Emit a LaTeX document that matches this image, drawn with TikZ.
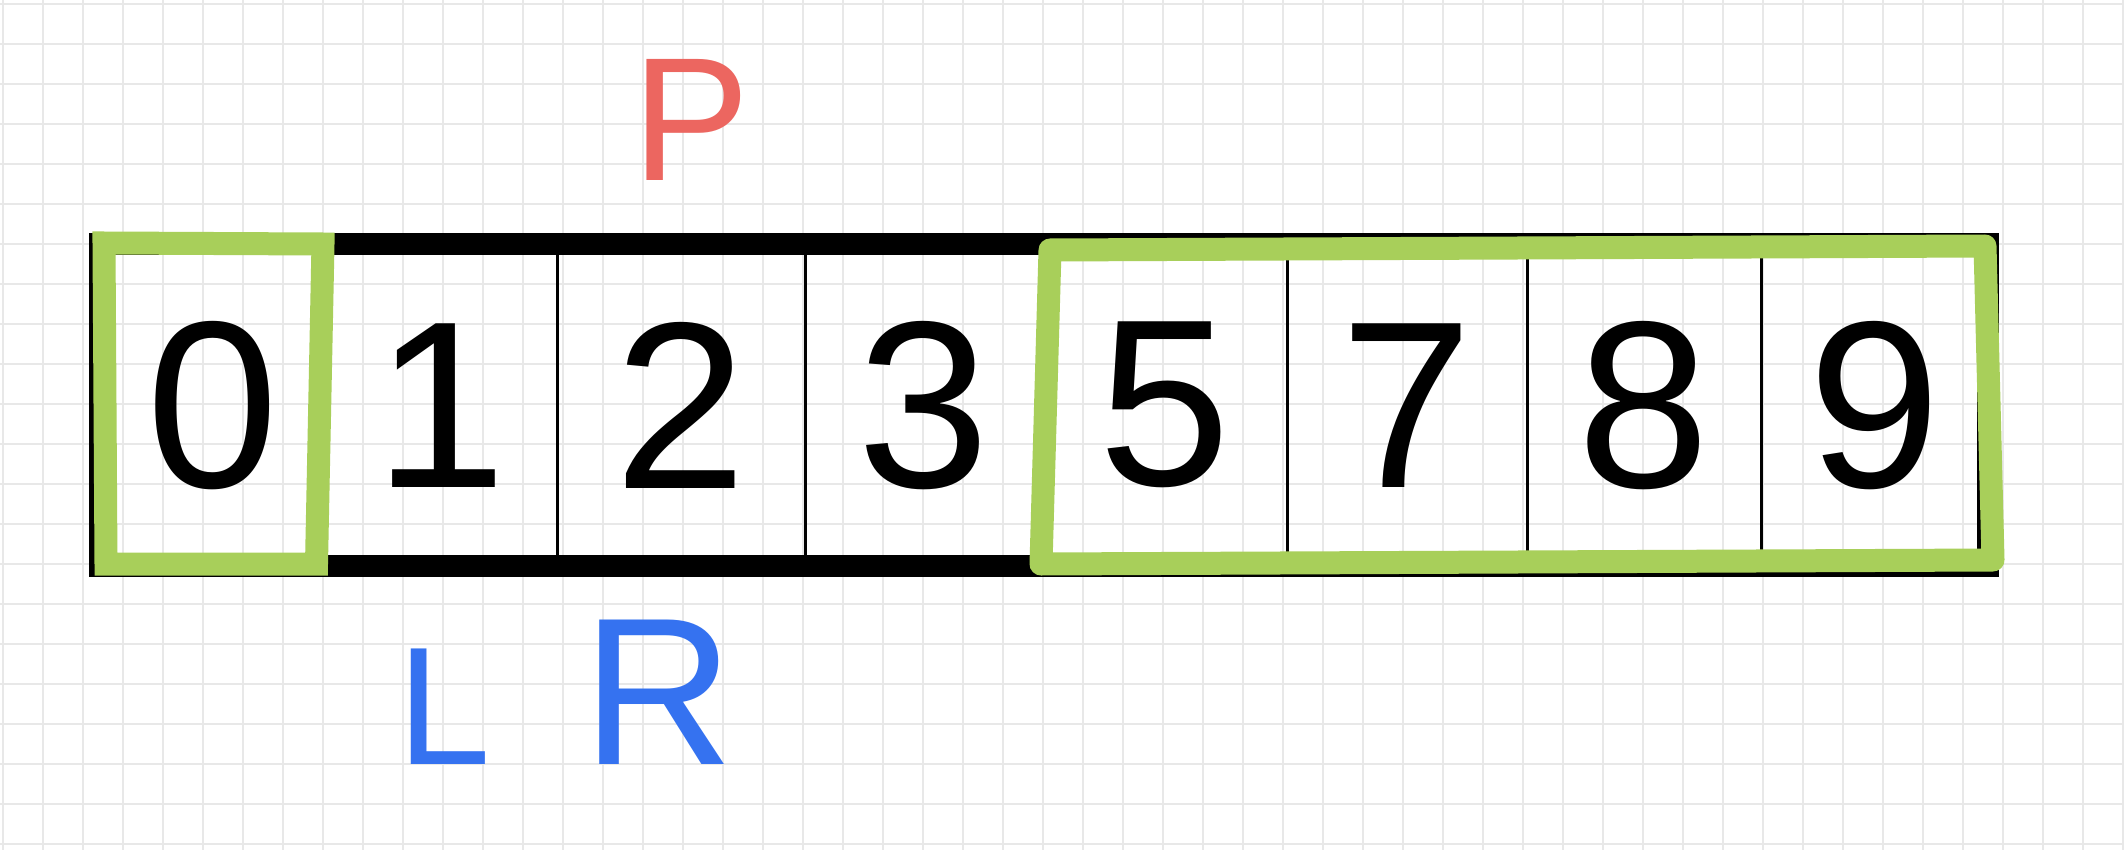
\documentclass[tikz,border=0pt]{standalone}
\usepackage{fontspec}
\setmainfont{Liberation Sans}
\usepackage{xcolor}
\usepackage{tikz}
\usetikzlibrary{positioning}
\definecolor{boxgreen}{RGB}{168,207,90}
\definecolor{pointred}{RGB}{236,102,96}
\definecolor{indexblue}{RGB}{53,114,240}
\definecolor{gridgray}{RGB}{232,232,232}

\begin{document}
\begin{tikzpicture}[x=0.5pt, y=-0.5pt,
    cell/.style={rectangle, draw, line width=1.5pt, inner sep=0pt, outer sep=0pt, minimum height=160.75pt, font=\fontsize{119}{119}\selectfont},
    hilite/.style={draw=boxgreen, line width=11.5pt, line join=miter},
    marker/.style={inner sep=0pt, font=\fontsize{88}{88}\selectfont},
    gridline/.style={gridgray, line width=0.75pt}]

\useasboundingbox (0,0) rectangle (2124,850);
\fill[white] (0,0) rectangle (2124,850);

% background grid
\foreach \gx in {3,43,...,2123} \draw[gridline] (\gx,0) -- (\gx,850);
\foreach \gy in {4,44,...,844} \draw[gridline] (0,\gy) -- (2124,\gy);

% array cells
\node[cell, minimum width=112.5pt] (c0) at (212.5,405.25) {0};
\node[cell, minimum width=116pt, right=0pt of c0] (c1) {1};
\node[cell, minimum width=124pt, right=0pt of c1] (c2) {2};
\node[cell, minimum width=119pt, right=0pt of c2] (c3) {3};
\node[cell, minimum width=122pt, right=0pt of c3] (c5) {5};
\node[cell, minimum width=120pt, right=0pt of c5] (c7) {7};
\node[cell, minimum width=117pt, right=0pt of c7] (c8) {8};
\node[cell, minimum width=113.5pt, right=0pt of c8] (c9) {9};

\draw[line width=11pt] (c0.north west) rectangle (c9.south east);

% highlighted parts
\draw[hilite] ([shift={(4,-1.5)}]c0.north west) -- ([shift={(-2,-0.5)}]c0.north east)
    -- ([shift={(-8.5,-2)}]c0.south east) -- ([shift={(6,-2)}]c0.south west) -- cycle;
\draw[hilite, line join=round] ([shift={(-3,1.5)}]c9.north east) -- ([shift={(5,-6)}]c9.south east)
    -- ([shift={(-2,-2)}]c5.south west) -- ([shift={(7,5.5)}]c5.north west) -- cycle;

% pointers
\node[marker, pointred] (P) at (691,120) {P};
\node[marker, indexblue, font=\fontsize{84}{84}\selectfont] (L) at (444,707) {L};
\node[marker, indexblue, font=\fontsize{105}{105}\selectfont] (R) at (658,692) {R};
\end{tikzpicture}
\end{document}
